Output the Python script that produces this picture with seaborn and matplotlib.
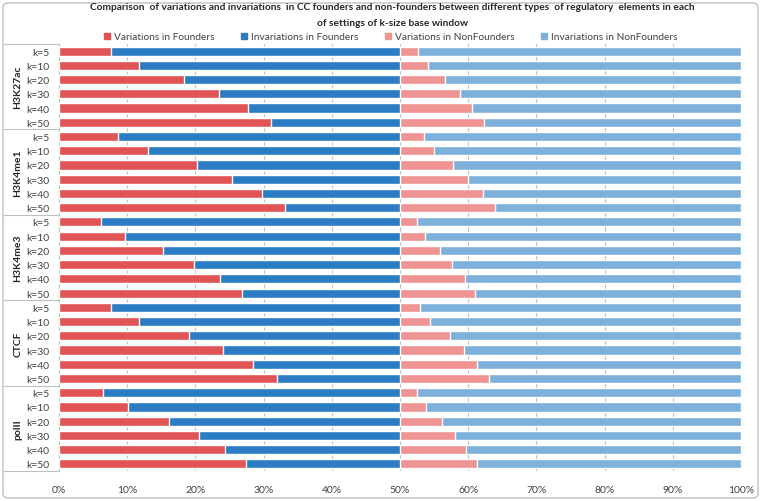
import numpy as np
import pandas as pd
import matplotlib
matplotlib.use('Agg')
import matplotlib.pyplot as plt
import seaborn as sns
from matplotlib.patches import Patch, FancyBboxPatch

sns.set_style('white')
plt.rcParams['font.family'] = ['Lato', 'DejaVu Sans']

# data (percent)
groups = ['H3K27ac', 'H3K4me1', 'H3K4me3', 'CTCF', 'polII']
kvals = ['k=5', 'k=10', 'k=20', 'k=30', 'k=40', 'k=50']
var_founders = [
    [7.6, 11.7, 18.4, 23.5, 27.7, 31.1],
    [8.7, 13.0, 20.2, 25.4, 29.8, 33.2],
    [6.2, 9.7, 15.2, 19.8, 23.6, 26.9],
    [7.6, 11.7, 19.0, 24.0, 28.5, 32.0],
    [6.5, 10.1, 16.1, 20.6, 24.3, 27.4],
]
var_nonfounders = [
    [2.7, 4.1, 6.6, 8.8, 10.6, 12.3],
    [3.5, 5.0, 7.8, 10.0, 12.2, 14.0],
    [2.5, 3.7, 5.8, 7.6, 9.5, 11.0],
    [2.9, 4.4, 7.3, 9.4, 11.3, 13.1],
    [2.5, 3.8, 6.1, 8.0, 9.7, 11.3],
]

c_vf = '#E05455'
c_if = '#2A7CC3'
c_vn = '#F09393'
c_in = '#7DB0DB'

rows = []
for g, vf, vn in zip(groups, var_founders, var_nonfounders):
    for k, a, b in zip(kvals, vf, vn):
        rows.append({'row': g + ' ' + k, 'k': k, 'group': g,
                     'vf': a, 'inv_f': 50.0, 'vn': 50.0 + b, 'inv_n': 100.0})
df = pd.DataFrame(rows)
order = list(df['row'])

fig = plt.figure(figsize=(7.62, 5.02), dpi=100)
ax = fig.add_axes([59 / 762, 1 - 472 / 502, 682 / 762, 427 / 502])

# layered bars: each layer drawn on top of the previous one
for col, color in [('inv_n', c_in), ('vn', c_vn), ('inv_f', c_if), ('vf', c_vf)]:
    sns.barplot(data=df, x=col, y='row', order=order, color=color, saturation=1,
                width=0.64, ax=ax, orient='h', zorder=3)

ax.set_xlim(0, 100)
ax.set_ylim(len(order) - 0.5, -0.5)
ax.set_xticks(np.arange(0, 101, 10))
ax.set_xticklabels([f'{v}%' for v in range(0, 101, 10)], fontsize=7.5, color='#404040')
ax.set_yticks(range(len(order)))
ax.set_yticklabels(list(df['k']), fontsize=7.5, color='#404040')
ax.tick_params(axis='x', length=0, pad=10)
ax.tick_params(axis='y', length=0, pad=7)
ax.set_xlabel('')
ax.set_ylabel('')
ax.grid(axis='x', color='#BFBFBF', lw=0.8, zorder=0)
ax.set_axisbelow(True)
for s in ['top', 'right', 'bottom']:
    ax.spines[s].set_visible(False)
ax.spines['left'].set_color('#BFBFBF')
ax.spines['left'].set_linewidth(0.8)

# group separators and labels on the category axis
trans = ax.get_yaxis_transform()
x0 = (4 - 59) / 682
for i in range(len(groups) + 1):
    y = i * 6 - 0.5
    ax.plot([x0, 0], [y, y], transform=trans, color='#BFBFBF', lw=0.8, clip_on=False)
for i, g in enumerate(groups):
    ax.text((18 - 59) / 682, i * 6 + 2.5, g, transform=trans, rotation=90,
            ha='center', va='center', fontsize=7.5, fontweight='bold', color='#262626')

fig.text(0.515, 1 - 8 / 502, 'Comparison  of variations and invariations  in CC founders and non-founders between different types  of regulatory  elements in each',
         ha='center', va='center', fontsize=7.3, fontweight='bold', color='#262626')
fig.text(0.515, 1 - 23 / 502, 'of settings of k-size base window',
         ha='center', va='center', fontsize=7.3, fontweight='bold', color='#262626')

handles = [Patch(color=c_vf, label='Variations in Founders'),
           Patch(color=c_if, label='Invariations in Founders'),
           Patch(color=c_vn, label='Variations in NonFounders'),
           Patch(color=c_in, label='Invariations in NonFounders')]
fig.legend(handles=handles, loc='center', bbox_to_anchor=(0.513, 1 - 38 / 502), ncol=4,
           frameon=False, fontsize=7.3, handlelength=0.6, handleheight=0.6,
           handletextpad=0.4, columnspacing=2.6, labelcolor='#404040',
           borderpad=0, borderaxespad=0)

border = FancyBboxPatch((3 / 762, 3 / 502), 755 / 762, 495 / 502,
                        boxstyle='round,pad=0,rounding_size=0.008',
                        transform=fig.transFigure, fill=False,
                        edgecolor='#BFBFBF', lw=1.0)
fig.patches.append(border)

fig.savefig('out.png', dpi=100)
